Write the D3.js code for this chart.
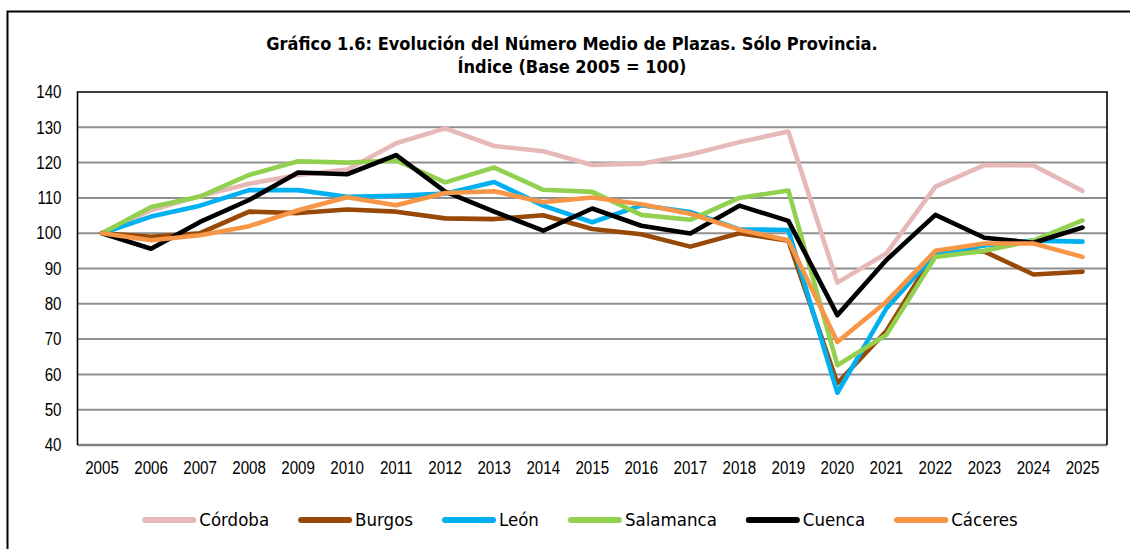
<!DOCTYPE html>
<html>
  <head>
    <meta charset="utf-8">
    <title>Gráfico 1.6</title>
    <script src="https://d3js.org/d3.v7.min.js"></script>
    <style>
      body { margin: 0; background: #fff; }
      .tick text { font-family: "Liberation Sans", Arial, sans-serif; font-size: 18px; fill: #000; }
    </style>
  </head>
  <body>
    <svg id="chart" width="1130" height="549"></svg>
    <script>
      let svg = d3.select("#chart");

      // data (index, base 2005 = 100)
      let years = ["2005", "2006", "2007", "2008", "2009", "2010", "2011", "2012", "2013", "2014", "2015",
                   "2016", "2017", "2018", "2019", "2020", "2021", "2022", "2023", "2024", "2025"];
      let seriesNames = ["Córdoba", "Burgos", "León", "Salamanca", "Cuenca", "Cáceres"];
      let seriesColors = ["#E6B9B8", "#984807", "#00B0F0", "#92D050", "#000000", "#F79646"];
      let cordoba   = [100, 106.5, 110.5, 114, 116.5, 118, 125.5, 129.7, 124.7, 123.2, 119.3, 119.7, 122.3, 125.8, 128.8, 86, 94.3, 113.2, 119.3, 119.2, 112];
      let burgos    = [100, 99, 100, 106.1, 105.7, 106.7, 106.1, 104.2, 104, 105.1, 101.2, 99.7, 96.2, 100, 97.9, 57.5, 72.3, 94.7, 94.8, 88.3, 89.1];
      let leon      = [100, 104.7, 107.8, 112.2, 112.2, 110.3, 110.6, 111.2, 114.5, 107.8, 103.1, 107.9, 106, 101.1, 100.9, 54.8, 78.7, 94.2, 96.5, 97.9, 97.6];
      let salamanca = [100, 107.4, 110.4, 116.5, 120.4, 120, 120.6, 114.4, 118.6, 112.3, 111.7, 105.2, 103.8, 110, 112.1, 62.6, 71.2, 93.3, 95, 97.9, 103.6];
      let cuenca    = [100, 95.6, 103.2, 109.4, 117.2, 116.7, 122.1, 111.8, 106.1, 100.7, 107, 102.1, 99.9, 107.8, 103.5, 76.8, 92.4, 105.2, 98.7, 97.3, 101.6];
      let caceres   = [100, 98, 99.4, 102, 106.5, 110.2, 107.9, 111.4, 111.9, 108.8, 110.1, 108.2, 105.5, 101, 98, 69.2, 80.6, 95, 97.1, 97.1, 93.3];
      let seriesValues = [cordoba, burgos, leon, salamanca, cuenca, caceres];
      let yTicks = [40, 50, 60, 70, 80, 90, 100, 110, 120, 130, 140];
      let titleLines = ["Gráfico 1.6: Evolución del Número Medio de Plazas. Sólo Provincia.", "Índice (Base 2005 = 100)"];

      let plotLeft = 77.5, plotRight = 1107, plotTop = 92, plotBottom = 445;

      let x = d3.scaleBand().domain(years).range([plotLeft, plotRight]).padding(0);
      let y = d3.scaleLinear().domain([40, 140]).range([plotBottom, plotTop]);
      let cx = (d) => x(d) + x.bandwidth() / 2;

      // outer frame (runs off the right and bottom edge)
      svg.append("rect")
        .attr("x", 7.5).attr("y", 11.5)
        .attr("width", 1140).attr("height", 560)
        .attr("fill", "none").attr("stroke", "#000").attr("stroke-width", 2);

      // title
      svg.append("text")
        .attr("x", 572).attr("y", 50)
        .attr("text-anchor", "middle")
        .style("font-family", "'DejaVu Sans Condensed', 'DejaVu Sans', sans-serif")
        .style("font-stretch", "condensed")
        .style("font-weight", "bold")
        .style("font-size", "18px")
        .selectAll("tspan")
        .data(titleLines)
        .enter()
        .append("tspan")
        .attr("x", 572)
        .attr("dy", (d, i) => (i === 0 ? 0 : 23))
        .text((d) => d);

      // gridlines
      svg.append("g")
        .selectAll("line")
        .data(yTicks.filter((d) => d > 40 && d < 140))
        .enter()
        .append("line")
        .attr("x1", plotLeft).attr("x2", plotRight)
        .attr("y1", (d) => y(d)).attr("y2", (d) => y(d))
        .attr("stroke", "#8f8f8f").attr("stroke-width", 2);

      // bottom axis line and plot border
      svg.append("line")
        .attr("x1", plotLeft).attr("x2", plotRight)
        .attr("y1", plotBottom).attr("y2", plotBottom)
        .attr("stroke", "#808080").attr("stroke-width", 2.5);
      svg.append("path")
        .attr("d", `M${plotLeft},${plotBottom} V${plotTop} H${plotRight} V${plotBottom}`)
        .attr("fill", "none").attr("stroke", "#000").attr("stroke-width", 1.6);

      // axes labels
      let yAxis = svg.append("g")
        .attr("transform", `translate(${plotLeft},0)`)
        .call(d3.axisLeft(y).tickValues(yTicks).tickSize(0).tickPadding(16));
      yAxis.select(".domain").remove();

      let xAxis = svg.append("g")
        .attr("transform", `translate(0,${plotBottom})`)
        .call(d3.axisBottom(x).tickSize(0).tickPadding(16));
      xAxis.select(".domain").remove();

      // the original uses a narrow face; squeeze the digits to that width
      svg.selectAll(".tick text").each(function () {
        let t = d3.select(this);
        let w = this.getComputedTextLength();
        t.attr("textLength", w * 0.84).attr("lengthAdjust", "spacingAndGlyphs");
      });

      // lines
      let line = d3.line()
        .x((d, i) => cx(years[i]))
        .y((d) => y(d));

      svg.append("g")
        .selectAll("path")
        .data(seriesValues)
        .enter()
        .append("path")
        .attr("d", (d) => line(d))
        .attr("fill", "none")
        .attr("stroke", (d, i) => seriesColors[i])
        .attr("stroke-width", 4.6)
        .attr("stroke-linejoin", "round")
        .attr("stroke-linecap", "round");

      // legend
      let legend = svg.append("g");
      let sampleLen = 54, textGap = 3, itemGap = 29, legendY = 520;
      let items = legend.selectAll("g")
        .data(seriesNames)
        .enter()
        .append("g");
      items.append("line")
        .attr("x1", 3).attr("x2", sampleLen - 3)
        .attr("y1", 0).attr("y2", 0)
        .attr("stroke", (d, i) => seriesColors[i])
        .attr("stroke-width", 6)
        .attr("stroke-linecap", "round");
      items.append("text")
        .attr("x", sampleLen + textGap)
        .attr("y", 0)
        .attr("dy", "0.35em")
        .style("font-family", "'DejaVu Sans Condensed', 'DejaVu Sans', sans-serif")
        .style("font-stretch", "condensed")
        .style("font-size", "18.5px")
        .text((d) => d);

      let offsets = [], pos = 0;
      items.each(function () {
        offsets.push(pos);
        let w = d3.select(this).select("text").node().getComputedTextLength();
        pos += sampleLen + textGap + w + itemGap;
      });
      let totalW = pos - itemGap;
      let startX = 580 - totalW / 2;
      items.attr("transform", (d, i) => `translate(${startX + offsets[i]},${legendY})`);
    </script>
  </body>
</html>
